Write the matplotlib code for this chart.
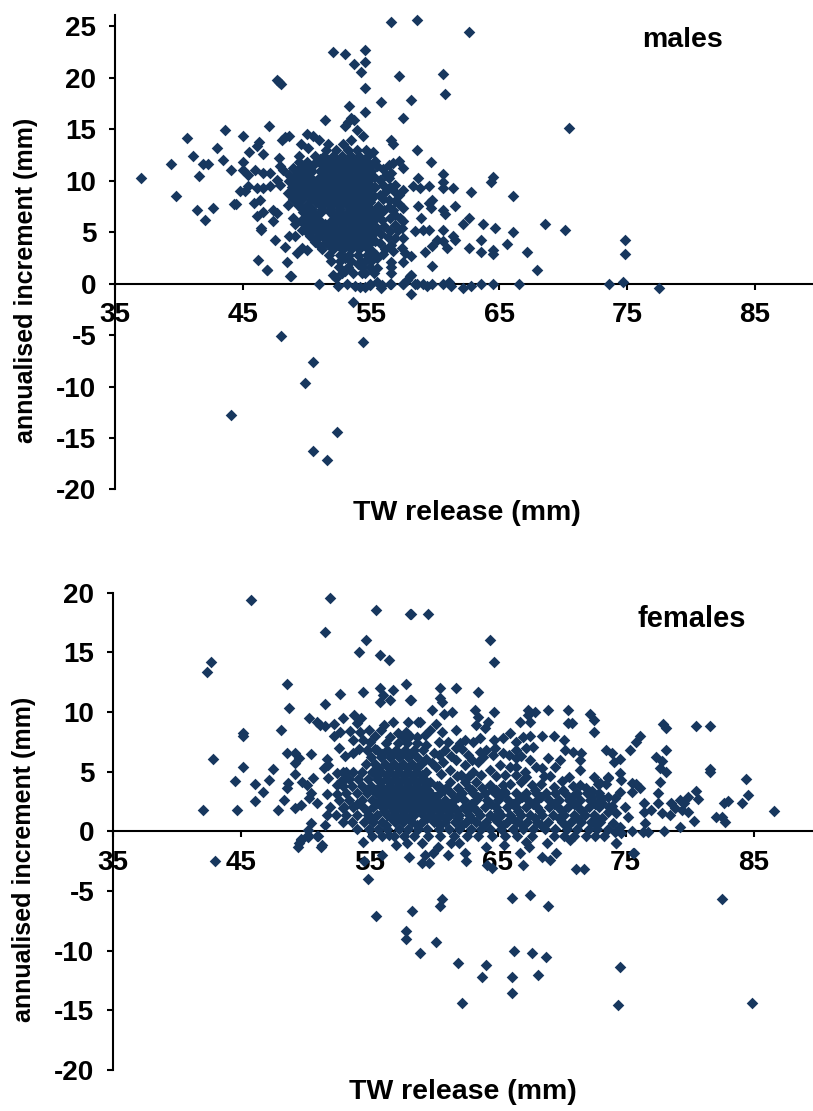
import matplotlib
matplotlib.use('Agg')
import matplotlib.pyplot as plt

W, H = 813, 1111
COL = '#17375E'
plt.rcParams['font.family'] = ['Liberation Sans', 'DejaVu Sans']
plt.rcParams['font.weight'] = 'bold'
plt.rcParams['axes.unicode_minus'] = False

x_ticks = [35, 45, 55, 65, 75, 85]
male_y_ticks = [-20, -15, -10, -5, 0, 5, 10, 15, 20, 25]
female_y_ticks = [-20, -15, -10, -5, 0, 5, 10, 15, 20]

# males, points that stand alone
male_left = [(37.0,10.3),(39.35,11.65),(39.8,8.54),(40.6,14.17),(41.07,12.43),(41.4,7.18),(41.85,11.65),(42.3,11.65),
    (41.54,10.5),(42.0,6.2),(42.63,7.35),(42.94,13.2),(43.4,12.04),(43.57,14.95),(44.04,11.07),(44.97,14.37),
    (45.44,12.8),(44.97,11.84),(46.07,13.4),(46.25,13.8),(46.54,12.6),(47.0,15.34),(47.63,19.8),(47.79,19.6),
    (47.94,19.4),(48.05,14.0),(48.3,14.2),(48.57,14.37),(49.97,14.56),(50.44,14.37),(50.9,14.0),(49.5,13.6),
    (50.1,13.2),(51.64,13.6),(47.8,12.2),(49.35,12.4),(45.0,11.07),(45.4,10.6),(45.9,11.07),(46.6,10.74),
    (47.1,10.74),(47.9,11.4),(48.15,11.07),(44.77,8.96),(45.15,8.96),(45.4,9.45),(46.07,9.3),(46.6,9.3),
    (47.1,9.45),(47.63,10.1),(47.9,9.6),(44.45,7.76),(44.3,7.76),(45.86,7.83),(46.33,8.15),(46.07,6.54),
    (46.6,7.0),(47.37,7.2),(47.37,6.05),(47.63,6.86),(46.38,5.4),(46.38,5.25),(47.5,4.27),(48.57,4.6),
    (49.06,4.66),(48.3,3.56),(46.2,2.33),(46.85,1.36),(48.4,2.13),(48.7,0.77),(49.2,3.0),(50.0,3.3),(49.6,3.5)]
male_top = [(51.38,15.9),(52.0,22.5),(52.94,22.3),(53.7,21.36),(54.5,22.7),(54.5,21.55),(54.2,20.6),(54.5,19.03),
    (53.25,17.3),(54.5,16.7),(53.4,16.1),(53.7,15.9),(52.94,15.34),(53.2,15.7),(53.88,14.95),(54.35,14.37),
    (53.4,14.0),(52.8,13.6),(56.54,25.43),(58.57,25.63),(62.63,24.46),(57.16,20.2),(60.6,20.4),(60.75,18.45),
    (55.75,17.67),(58.1,17.86),(57.47,16.1),(70.44,15.14),(56.54,14.0),(56.7,13.6),(58.57,13.0),(55.13,12.8)]
male_right = [(59.66,11.84),(60.6,10.7),(64.5,10.35),(64.35,9.9),(58.7,10.3),(58.3,9.5),(58.83,9.3),(59.53,9.5),
    (60.6,9.9),(60.6,9.3),(61.38,9.3),(62.8,8.93),(66.07,8.54),(59.8,8.15),(59.5,7.83),(58.7,7.57),(59.66,7.34),
    (61.54,7.57),(60.6,7.18),(60.75,6.8),(58.88,6.4),(62.63,6.4),(62.16,5.8),(63.72,5.8),(64.66,5.43),(68.57,5.8),
    (70.13,5.24),(58.41,5.1),(59.04,5.24),(59.5,5.24),(60.6,5.24),(61.38,4.66),(61.54,4.27),(66.07,5.05),
    (60.13,4.27),(60.6,4.1),(59.8,3.7),(60.9,3.5),(59.2,3.1),(63.57,4.27),(62.63,3.5),(63.57,3.1),(64.5,3.3),
    (64.5,2.9),(65.6,3.9),(67.16,3.1),(74.82,4.27),(74.82,2.9),(67.94,1.36),(59.8,1.75),(58.1,2.7),(57.47,2.13),
    (56.54,2.13),(56.54,1.03),(56.74,11.7),(57.2,11.9),(57.47,11.2),(56.43,11.55),(55.44,11.4),(56.6,10.75),
    (56.43,10.26),(55.7,10.1),(56.87,9.6),(57.47,9.1),(57.2,8.6),(56.2,9.0),(55.7,8.6),(56.43,8.15),(57.47,7.34),
    (56.74,7.18),(55.57,7.5),(54.92,8.15),(57.27,6.4),(57.53,6.05),(55.83,6.2),(56.48,6.4),(55.44,5.4),(56.48,5.07),
    (57.13,5.24),(57.47,4.43),(56.54,3.8),(55.7,3.95),(57.4,3.46),(57.65,3.0),(55.44,2.5),(54.53,2.17),(56.54,1.6)]
male_fill = [(55.3,11.9),(55.9,11.1),(56.2,10.6),(55.2,10.4),(55.9,9.6),(56.5,9.4),(55.3,9.4),(56.9,8.9),(55.9,8.2),
    (56.9,8.0),(57.2,7.7),(55.2,7.0),(56.0,7.2),(56.4,7.4),(55.6,6.8),(56.9,6.7),(55.3,6.3),(56.0,5.6),(56.9,5.7),
    (57.4,5.4),(55.2,4.9),(55.8,4.8),(56.3,4.5),(56.9,4.4),(55.3,4.1),(56.1,3.4),(56.7,3.2),(55.1,3.2),(55.9,2.9),
    (54.0,1.9),(55.5,1.5),(53.0,2.5)]
male_zero = [(66.54,0),(64.5,0),(63.57,0),(62.8,-0.2),(62.16,-0.4),(61.22,-0.2),(61.07,0.2),(60.6,0),(59.8,0),
    (59.35,-0.2),(59.04,0),(58.57,0),(58.1,0.8),(57.8,0.4),(57.47,0),(56.54,0),(55.75,-0.4),(55.44,0.2),(54.9,0),
    (58.1,-1.0),(73.57,0),(74.66,0.2),(77.47,-0.4),(50.9,0),(52.42,-0.2),(53.1,0),(53.75,-0.2),(54.14,-0.3),
    (54.53,-0.3),(54.92,-0.1),(55.83,-0.1),(56.5,0),(57.5,0),(58.05,0.7),(58.44,0),(52.03,0.87),(52.3,0.58),
    (52.97,1.2),(54.27,1.05),(48.73,0.77),(46.85,1.3)]
male_neg = [(47.95,-5.05),(50.44,-7.57),(49.82,-9.7),(44.04,-12.8),(52.32,-14.37),(50.44,-16.3),(51.54,-17.1),
    (54.35,-5.63),(53.57,-1.75)]

# males, the solid middle of the cloud, row by row
male_core_y = [13.0,12.4,12.1,11.8,11.5,11.2,10.9,10.6,10.3,10.0,9.7,9.4,9.1,8.8,8.5,8.2,7.9,7.6,7.3,7.0,6.7,6.4,6.1,5.8,5.5,
    5.2,4.9,4.6,4.3,4.0,3.7,3.4,2.8,2.2,1.6,1.0]
male_core_x = [
    [51.5,52.3,53.2,53.9,54.6],
    [50.6,51.3,52.0,52.7,53.4,54.1,54.8],
    [51.0,51.9,52.6,53.1,53.8,54.5],
    [49.4,50.0,50.7,51.4,52.1,52.7,53.3,53.9,54.6],
    [49.8,50.5,51.2,51.9,52.5,53.1,53.7,54.3,54.9],
    [48.9,49.5,50.2,51.6,52.3,52.9,53.5,54.1,54.8],
    [49.2,49.8,50.4,51.0,51.9,52.6,53.2,53.8,54.4,55.0],
    [48.6,49.2,49.9,51.3,52.0,52.7,53.3,54.0,54.6],
    [48.9,49.6,50.3,50.9,51.7,52.4,53.0,53.7,54.3,54.9],
    [48.6,49.3,50.0,50.7,51.4,52.1,52.8,53.5,54.2,54.8],
    [49.0,49.7,50.4,51.1,51.8,52.5,53.2,53.9,54.5],
    [48.8,49.5,50.2,50.9,51.6,52.3,53.0,53.7,54.4,55.1],
    [49.2,49.9,50.6,51.2,52.0,52.7,53.4,54.1,54.8],
    [48.5,49.2,49.9,50.6,51.3,52.0,52.7,53.4,54.1,54.7],
    [48.9,49.6,50.3,51.0,51.7,52.4,53.1,53.8,54.5,55.2],
    [48.9,49.6,50.3,51.0,51.7,52.4,53.1,53.8,54.5],
    [49.3,50.7,51.4,52.1,52.8,53.5,54.2,54.9],
    [48.5,49.3,50.0,51.0,51.7,52.4,53.1,53.8,54.5],
    [49.6,50.4,51.2,51.9,52.6,53.4,54.2,54.9],
    [49.7,50.4,51.1,51.8,52.5,53.2,53.9,54.6],
    [50.0,50.8,52.0,52.7,53.4,54.1,54.8],
    [48.9,49.8,50.5,52.2,52.9,53.6,54.3,55.0],
    [49.5,50.2,51.0,51.9,52.6,53.3,54.0,54.7],
    [49.1,50.1,50.8,51.4,52.1,52.8,53.5,54.2,54.9],
    [49.9,50.6,51.3,52.0,52.7,53.4,54.1,54.8],
    [49.6,50.5,51.1,51.9,52.6,53.3,54.0,54.7,55.3],
    [50.1,50.9,51.6,52.3,53.0,53.7,54.4,55.0],
    [50.2,50.9,51.7,52.5,53.2,53.9,54.6],
    [50.7,51.4,52.1,52.8,53.5,54.2,54.8],
    [50.6,51.5,52.1,52.9,53.6,54.3,55.0],
    [51.0,51.8,52.5,53.2,53.9,54.6],
    [51.2,52.0,52.8,53.4,54.1,54.8],
    [51.7,52.6,53.3,54.0,54.7,55.4],
    [51.9,52.6,53.4,54.2,55.0],
    [52.5,53.2,54.3,54.9],
    [52.7,53.6,54.5,55.2]]

# females, points that stand alone
female_left = [(45.72,19.42),(51.96,19.59),(55.55,18.58),(58.2,18.25),(51.5,16.74),(54.77,16.07),(54.15,15.06),
    (55.86,14.78),(56.5,14.4),(42.6,14.2),(42.29,13.39),(48.53,12.38),(57.89,12.38),(55.86,12.05),(56.8,11.88),
    (54.46,11.71),(52.74,11.54),(56.02,11.43),(55.86,10.87),(56.64,11.04),(58.2,11.04),(51.5,10.7),(48.69,10.37),
    (50.25,9.53),(50.87,9.2),(51.13,8.92),(51.5,8.86),(52.27,9.03),(52.9,9.53),(53.83,9.76),(54.38,9.48),(54.0,9.06),
    (48.06,8.53),(45.1,8.22),(45.1,8.02),(56.85,9.2),(58.02,9.2),(56.12,8.92),(55.94,8.5),(57.24,8.22),(57.89,8.36),
    (58.8,9.2),(52.69,8.36),(52.27,8.02),(53.68,7.69),(54.46,7.69),(55.03,7.52),(55.4,8.02),(52.59,7.0),(42.76,6.04),
    (48.53,6.54),(49.18,6.54),(49.52,6.18),(49.18,5.71),(50.4,6.52),(51.65,6.07),(51.78,5.57),(51.44,5.34),(45.1,5.37),
    (47.44,5.2),(44.47,4.2),(47.13,4.34),(46.03,4.0),(46.66,3.33),(46.03,2.5),(41.98,1.82),(44.63,1.82),(47.9,1.82),
    (49.18,4.78),(48.66,4.03),(48.53,3.67),(48.37,2.66),(49.18,1.99),(49.62,2.21),(49.73,4.17),(50.09,3.89),(50.56,4.5),
    (50.4,3.19),(50.25,2.77),(50.87,2.35),(51.65,3.16),(52.43,3.16),(51.78,4.5),(52.43,4.87),(53.2,5.0),(51.91,2.07),
    (51.65,1.38),(51.52,0.54),(50.4,0.7),(50.22,0.12),(51.0,-0.36),(50.22,-0.44),(49.62,-0.72),(49.52,-1.0),(51.26,-1.14),
    (52.43,3.89),(52.95,1.93)]
female_mid = [(58.28,18.25),(59.6,18.25),(64.44,16.07),(64.75,14.2),(60.54,12.05),(61.79,12.05),(63.5,11.71),(60.54,11.15),
    (60.7,10.82),(58.28,11.04),(59.92,10.2),(60.85,9.87),(61.48,10.03),(63.2,10.2),(64.75,10.03),(63.48,9.62),(67.4,10.2),
    (67.9,10.0),(68.97,10.2),(70.53,10.2),(72.24,9.87),(72.5,9.37),(67.4,9.76),(67.56,9.2),(66.78,9.2),(70.53,9.06),
    (70.84,9.06),(72.55,8.36),(58.98,9.2),(60.23,9.03),(59.76,8.53),(60.7,8.36),(61.79,8.53),(63.35,8.92),(64.26,9.2),
    (64.0,8.64),(68.5,8.02),(69.43,8.02),(70.2,7.69),(67.56,8.02),(67.0,7.94),(65.95,8.22),(65.43,7.8),(64.75,7.69),
    (63.66,7.86),(63.1,7.52),(62.44,7.66),(62.05,7.38),(61.79,7.0),(61.17,7.52),(60.44,7.52),(59.45,7.24),(59.19,6.82),
    (66.47,7.52),(66.47,6.82),(67.77,7.1),(67.25,6.96),(66.47,6.12),(66.47,5.43),(66.47,4.73),(66.86,6.27),(67.5,6.0),
    (67.12,5.0),(67.25,4.59),(68.97,6.18),(68.5,5.34),(67.98,5.43),(70.24,6.82),(70.9,6.68),(71.54,6.54),(71.46,6.0),
    (71.46,5.18),(69.85,6.0),(69.46,5.43),(70.58,4.59),(72.53,4.59),(72.84,4.0),(73.62,4.5),(64.13,6.82),(63.61,6.68),
    (64.65,6.4),(62.7,6.4),(61.79,5.98),(60.75,5.85),(60.23,5.43),(62.44,5.57),(63.48,5.85),(65.17,5.57),(65.95,5.43),
    (62.18,4.73),(63.09,5.0),(64.39,5.15),(62.44,4.17),(63.35,4.17),(64.39,3.89),(65.43,3.89),(61.27,4.17),(61.0,3.61),
    (59.7,4.17),(68.4,4.0),(69.4,3.7),(71.4,3.9)]
female_fill = [(60.4,6.4),(60.9,6.8),(61.4,6.3),(62.2,6.9),(63.0,6.0),(63.9,6.2),(64.8,7.0),(65.4,6.6),(65.9,6.4),(60.6,4.8),
    (61.3,5.1),(61.8,4.6),(62.8,4.6),(63.7,4.7),(64.9,4.6),(65.6,4.7),(66.0,4.0),(66.8,4.1),(67.7,3.9),(68.6,4.6),(69.1,4.6),
    (70.0,4.2),(70.9,3.8),(71.9,3.6),(72.4,3.4),(73.0,3.0),(73.6,2.9),(73.9,2.1),(65.5,3.4),(64.6,3.5),(63.8,3.6),(62.8,3.6),
    (61.9,3.6),(60.4,3.8),(59.9,5.7),(59.4,6.1),(60.0,6.6),(54.2,6.9),(53.7,6.6),(53.1,6.3),(53.2,4.5),(52.8,4.2),(54.3,8.3),
    (53.5,8.4),(55.0,8.5),(56.6,7.9),(57.6,7.9),(58.7,7.9),(59.3,8.1),(58.2,8.0),(55.4,6.9)]
female_right = [(77.91,8.99),(78.17,8.66),(80.48,8.85),(81.58,8.85),(76.09,7.99),(75.78,7.48),(75.36,6.81),(78.12,6.81),
    (73.49,6.81),(73.96,6.53),(74.53,6.03),(74.06,5.81),(77.34,6.2),(77.86,5.86),(77.65,5.3),(78.12,4.97),(81.58,5.19),
    (81.58,4.97),(84.38,4.35),(84.57,3.01),(84.1,2.34),(86.54,1.67),(82.98,2.51),(82.64,2.34),(82.04,1.17),(82.54,1.23),
    (82.72,0.78),(80.35,0.83),(80.67,2.68),(80.48,3.35),(79.89,2.9),(79.26,2.62),(79.57,2.34),(79.42,1.78),(79.86,1.64),
    (79.26,0.33),(78.01,0),(78.56,2.34),(78.82,1.92),(78.43,1.37),(77.83,1.5),(77.52,2.34),(77.52,3.18),(77.65,4.16),
    (77.0,1.78),(76.4,2.34),(76.4,1.64),(76.48,0.72),(76.74,-0.03),(76.35,-0.03),(75.47,0),(75.18,1.17),(75.49,3.32),
    (75.49,4.02),(76.14,3.6),(75.83,3.96),(74.53,4.86),(74.66,4.3),(73.62,4.58),(73.44,3.96),(72.97,4.02),(74.53,3.32),
    (74.14,2.76),(74.92,2.0),(73.18,2.34),(73.62,1.64),(74.27,1.5),(73.18,1.08),(74.0,0.67),(74.53,0.39),(74.14,-0.03),
    (74.66,-0.17),(74.27,-1.0),(75.65,-1.85)]
female_neg = [(42.91,-2.52),(49.46,-1.34),(49.62,-0.67),(50.23,-0.31),(50.92,-0.4),(51.24,-1.34),(54.88,-4.03),(54.56,-2.46),
    (54.48,-0.87),(55.97,-1.99),(55.53,-7.07),(58.32,-6.71),(57.87,-8.35),(57.87,-9.05),(58.96,-10.23),(60.22,-9.25),
    (60.5,-6.23),(60.66,-5.7),(61.92,-11.07),(62.24,-14.4),(64.1,-11.23),(63.78,-12.24),(66.12,-12.24),(66.28,-10.06),
    (66.12,-13.58),(66.12,-5.56),(67.54,-5.37),(68.95,-6.23),(67.7,-10.23),(68.79,-10.56),(68.14,-12.07),(74.53,-11.4),
    (74.37,-14.58),(82.5,-5.7),(84.84,-14.4),(71.14,-3.19),(71.74,-3.19),(67.0,-2.85),(66.77,-1.85),(68.43,-2.13),
    (69.1,-2.4),(69.56,-1.85),(74.25,-1.0),(75.6,-1.79),(64.06,-1.34),(65.47,-1.18),(62.56,-2.52),(62.44,-1.85),
    (61.15,-2.0),(58.1,-2.18),(59.13,-2.68),(59.61,-2.68),(59.33,-1.99),(59.93,-1.85),(60.34,-1.34),(61.35,-1.0),
    (61.96,-1.0),(59.13,-1.0),(57.1,-1.15),(57.9,-1.0),(56.5,-0.31),(68.83,-1.0),(67.42,-1.3),(67.2,-0.87),(64.18,-2.82),
    (64.6,-3.1),(70.65,-0.73)]

# females, the solid band, row by row
female_core_y = [7.4,6.8,6.5,6.2,5.6,5.3,5.0,4.7,4.4,4.1,3.8,3.5,3.2,2.9,2.6,2.3,2.0,1.7,1.4,1.1,0.8,0.5,0.2,-0.4]
female_core_x = [
    [56.3,57.2,57.9,58.7],
    [54.8,55.6,56.4,57.1,57.8,58.5],
    [56.0,56.8,57.5,58.2],
    [55.1,55.9,56.6,57.3,58.0,58.7],
    [54.7,55.4,56.2,56.9,57.6,58.3,59.0],
    [55.7,56.5,57.2,57.9,58.6],
    [52.9,53.7,54.4,55.2,55.9,56.6,57.3,58.0,58.7,59.4],
    [55.5,56.3,57.0,57.7,58.4,59.1],
    [53.4,54.1,54.9,55.6,56.3,57.0,57.7,58.4,59.1],
    [55.9,56.7,57.4,58.1,58.8,59.5],
    [52.9,53.6,54.4,55.1,55.8,56.5,57.2,57.9,58.6,59.3,60.3],
    [54.7,55.4,56.1,56.8,57.5,58.2,58.9,59.6,60.8,63.0,64.9,67.9,70.1],
    [53.2,54.0,54.8,55.5,56.2,56.9,57.6,58.3,59.0,59.7,60.5,61.4,62.2,63.1,64.0,64.8,65.6,66.4,67.2,68.0,68.8,69.5,70.3,71.2,72.0,72.9],
    [55.9,56.6,57.3,58.0,58.7,59.4,60.1,61.9,63.5,65.2,66.9,68.4,70.8,72.4],
    [52.6,53.4,54.4,55.2,55.9,56.6,57.3,58.0,58.7,59.4,60.1,60.9,61.6,62.4,63.3,64.2,65.0,65.8,66.6,67.4,68.1,69.0,69.8,70.6,71.4,72.2,73.0],
    [54.0,55.5,56.3,57.0,57.7,58.4,59.1,59.8,60.5,61.2,62.9,64.5,66.2,67.8,69.4,71.0,72.6],
    [53.0,53.7,54.5,55.3,56.0,56.7,57.4,58.1,58.8,59.5,60.2,60.9,61.6,62.4,63.1,64.0,64.9,65.7,66.4,67.2,68.1,69.0,69.7,70.5,71.3,72.1,72.9,73.7],
    [54.8,56.1,56.9,57.6,58.3,59.0,59.7,60.4,61.1,61.8,62.6,63.4,65.0,66.6,68.3,70.0,71.6],
    [52.4,53.2,54.0,54.9,55.6,56.4,57.1,57.8,58.5,59.2,59.9,60.6,61.3,62.0,62.8,63.6,64.4,65.3,66.0,66.8,67.5,68.5,69.3,70.2,71.0,71.8,72.5],
    [55.2,56.7,57.4,58.1,59.5,60.3,61.0,61.9,62.9,64.7,66.1,67.9,69.8,71.2,72.8],
    [52.9,53.6,54.6,55.3,56.0,57.0,57.6,58.3,59.1,60.0,60.9,61.7,62.5,63.3,64.1,65.0,65.7,66.5,67.3,68.1,68.9,70.0,70.7,71.5,72.3,73.0],
    [56.3,58.7,60.5,62.2,63.9,65.4,66.9,68.4,70.3,72.7],
    [54.0,55.0,55.7,56.4,57.3,58.0,58.8,59.5,60.4,61.2,62.0,62.9,63.7,64.4,65.3,66.2,67.0,67.8,68.7,69.5,70.4,71.2,72.1,72.8,73.6],
    [55.2,56.0,56.9,57.7,58.5,59.6,60.5,61.6,62.6,63.5,64.6,65.6,66.5,67.7,69.4,70.2,71.0,71.9,72.6,73.3]]


def collect(pairs, rows_y, rows_x):
    xs = [p[0] for p in pairs]
    ys = [p[1] for p in pairs]
    for y, row in zip(rows_y, rows_x):
        xs += row
        ys += [y] * len(row)
    return xs, ys


def panel(left, top, bottom, xs, ys, ylim, yticks, xtop):
    # left/top/bottom are pixels of the picture
    ax = fig.add_axes([left / W, 1 - bottom / H, (W - left) / W, (bottom - top) / H])
    ax.scatter(xs, ys, marker='D', s=35, color=COL, linewidths=0, zorder=5, clip_on=False)
    ax.set_xlim(35, xtop)
    ax.set_ylim(*ylim)
    ax.spines['top'].set_visible(False)
    ax.spines['right'].set_visible(False)
    ax.spines['bottom'].set_position(('data', 0))
    ax.spines['bottom'].set_linewidth(1.5)
    ax.spines['left'].set_linewidth(1.5)
    ax.set_xticks(x_ticks)
    ax.set_yticks(yticks)
    ax.tick_params(axis='x', direction='out', length=4.5, width=1.5, pad=9, labelsize=20)
    ax.tick_params(axis='y', direction='out', length=4.5, width=1.5, pad=9, labelsize=20)
    ax.patch.set_alpha(0)
    return ax


fig = plt.figure(figsize=(W / 100, H / 100), dpi=100)

xs, ys = collect(male_left + male_top + male_right + male_fill + male_zero + male_neg, male_core_y, male_core_x)
panel(115, 15, 489.5, xs, ys, (-20, 26.1), male_y_ticks, 89.53)

xs, ys = collect(female_left + female_mid + female_fill + female_right + female_neg, female_core_y, female_core_x)
panel(113.2, 592.7, 1069.9, xs, ys, (-20, 20), female_y_ticks, 89.62)


def label(px, py, s, size, rotation=0):
    fig.text(px / W, 1 - py / H, s, ha='center', va='center', rotation=rotation, fontsize=size, fontweight='bold')


label(26, 280, 'annualised increment (mm)', 18, 90)
label(467, 513, 'TW release (mm)', 20.5)
label(682, 40, 'males', 20.5)
label(24, 859, 'annualised increment (mm)', 18, 90)
label(463, 1092, 'TW release (mm)', 20.5)
label(692, 619, 'females', 21)

fig.savefig('out.png', dpi=100)
